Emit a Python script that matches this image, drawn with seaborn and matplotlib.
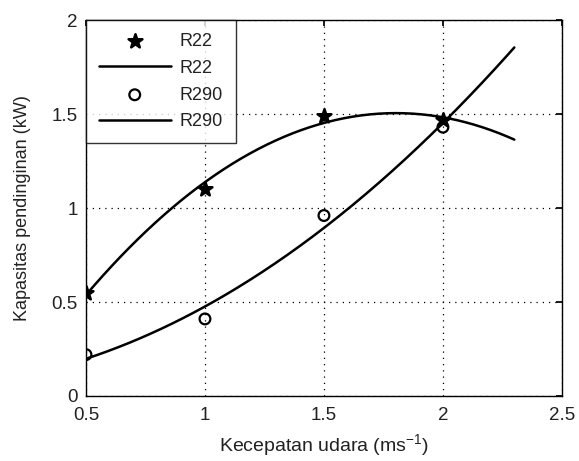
import numpy as np
import pandas as pd
import matplotlib
matplotlib.use("Agg")
import matplotlib.pyplot as plt
import seaborn as sns

# Data
speed = [0.5, 1.0, 1.5, 2.0]
r22 = [0.55, 1.10, 1.49, 1.47]
r290 = [0.22, 0.41, 0.96, 1.43]
fit_range = (0.5, 2.3)
xticks = [0.5, 1, 1.5, 2, 2.5]
xtick_labels = ["0.5", "1", "1.5", "2", "2.5"]
yticks = [0, 0.5, 1, 1.5, 2]
ytick_labels = ["0", "0.5", "1", "1.5", "2"]

sns.set_theme(style="white")
plt.rcParams['font.family'] = ['Liberation Sans', 'DejaVu Sans']
plt.rcParams['mathtext.default'] = 'regular'

fig = plt.figure(figsize=(5.79, 4.61), dpi=100)
ax = fig.add_axes([0.1485, 0.141, 0.822, 0.8156])

xs = np.linspace(fit_range[0], fit_range[1], 200)
fit22 = np.polyval(np.polyfit(speed, r22, 2), xs)
fit290 = np.polyval(np.polyfit(speed, r290, 2), xs)

pts = pd.DataFrame({"x": speed, "r22": r22, "r290": r290})
fits = pd.DataFrame({"x": xs, "f22": fit22, "f290": fit290})

sns.scatterplot(data=pts, x="x", y="r22", marker="*", s=110, color="black",
                edgecolor="black", linewidth=1.8, ax=ax, label="R22", zorder=3)
sns.lineplot(data=fits, x="x", y="f22", color="black", lw=1.8, ax=ax, label="R22")
sns.scatterplot(data=pts, x="x", y="r290", marker="o", s=60, facecolor="none",
                edgecolor="black", linewidth=1.6, ax=ax, label="R290", zorder=3)
sns.lineplot(data=fits, x="x", y="f290", color="black", lw=1.8, ax=ax, label="R290")

ax.set_xlim(0.5, 2.5)
ax.set_ylim(0, 2)
ax.set_xticks(xticks)
ax.set_xticklabels(xtick_labels)
ax.set_yticks(yticks)
ax.set_yticklabels(ytick_labels)
ax.grid(True, linestyle=(0, (1, 4)), color="black", linewidth=0.9)
ax.tick_params(direction="in", length=4, top=True, right=True, labelsize=13.5,
               color="black", labelcolor="#222222")
ax.tick_params(axis="x", pad=8)
ax.tick_params(axis="y", pad=6)
for s in ax.spines.values():
    s.set_color("black")
    s.set_linewidth(1.0)
ax.set_xlabel("Kecepatan udara (ms$^{-1}$)", fontsize=14, labelpad=6,
              color="#222222")
ax.set_ylabel("Kapasitas pendinginan (kW)", fontsize=13, labelpad=15,
              color="#222222")

leg = ax.legend(loc="upper left", fontsize=13, frameon=True, fancybox=False,
                edgecolor="black", borderaxespad=0, handlelength=4.0,
                handletextpad=0.5, labelspacing=0.55, borderpad=0.7)
leg.get_frame().set_linewidth(1.0)
for t in leg.get_texts():
    t.set_color("#222222")

fig.savefig("out.png", dpi=100, facecolor="white")
